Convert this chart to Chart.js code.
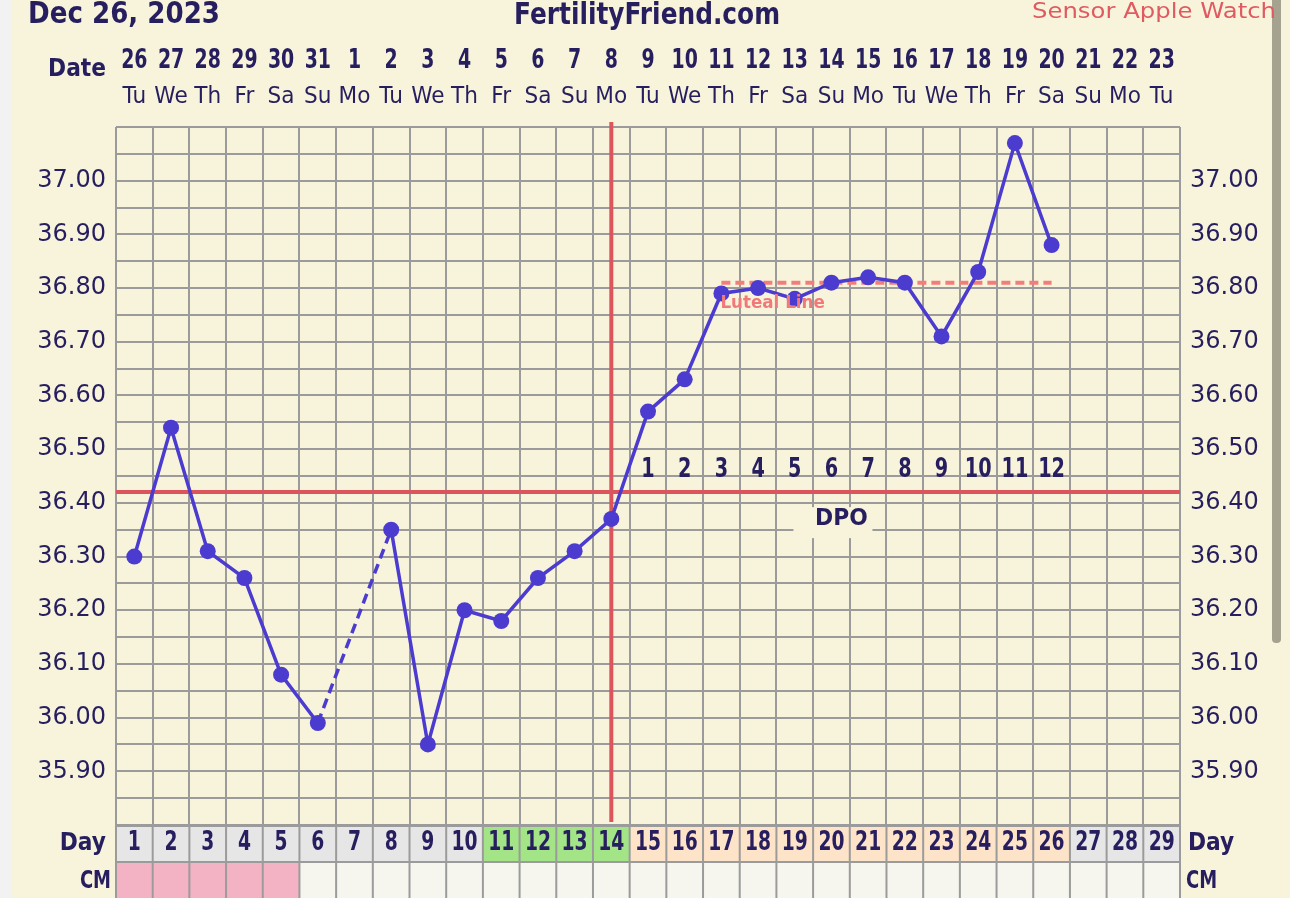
<!DOCTYPE html>
<html>
<head>
<meta charset="utf-8">
<script src="https://cdn.jsdelivr.net/npm/chart.js@4.4.1/dist/chart.umd.min.js"></script>
<style>
  html, body { margin: 0; padding: 0; background: #f2f2f2; overflow: hidden; }
</style>
</head>
<body>
<canvas id="bbt-chart" width="1290" height="898"></canvas>
<script>
// chart values
const cycleDays = [1, 2, 3, 4, 5, 6, 7, 8, 9, 10, 11, 12, 13, 14, 15, 16, 17, 18, 19, 20, 21, 22, 23, 24, 25, 26, 27, 28, 29];
const dates = [26, 27, 28, 29, 30, 31, 1, 2, 3, 4, 5, 6, 7, 8, 9, 10, 11, 12, 13, 14, 15, 16, 17, 18, 19, 20, 21, 22, 23];
const weekdays = ['Tu', 'We', 'Th', 'Fr', 'Sa', 'Su', 'Mo', 'Tu', 'We', 'Th', 'Fr', 'Sa', 'Su', 'Mo', 'Tu', 'We', 'Th', 'Fr', 'Sa', 'Su', 'Mo', 'Tu', 'We', 'Th', 'Fr', 'Sa', 'Su', 'Mo', 'Tu'];
const temps = [36.30, 36.54, 36.31, 36.26, 36.08, 35.99, null, 36.35, 35.95, 36.20, 36.18, 36.26, 36.31, 36.37, 36.57, 36.63, 36.79, 36.80, 36.78, 36.81, 36.82, 36.81, 36.71, 36.83, 37.07, 36.88, null, null, null];
const lutealLine = [null, null, null, null, null, null, null, null, null, null, null, null, null, null, null, null, 36.81, 36.81, 36.81, 36.81, 36.81, 36.81, 36.81, 36.81, 36.81, 36.81, null, null, null];
const dpo = [null, null, null, null, null, null, null, null, null, null, null, null, null, null, 1, 2, 3, 4, 5, 6, 7, 8, 9, 10, 11, 12, null, null, null];
const coverline = 36.42;
const ovulationDay = 14;
const fertileDays = [11, 12, 13, 14];
const periodDays = [1, 2, 3, 4, 5];
const yLabels = [35.90, 36.00, 36.10, 36.20, 36.30, 36.40, 36.50, 36.60, 36.70, 36.80, 36.90, 37.00];
const Y_MIN = 35.80;
const Y_MAX = 37.10;

const NAVY = '#261e5e';
const CREAM = '#f8f4dc';
const GRID = '#9b9b9b';
const RED = '#dc555d';
const PURPLE = '#4b3bcf';

function txt(ctx, s, x, y, font, color, align, sx) {
  ctx.save();
  ctx.font = font;
  ctx.fillStyle = color;
  ctx.textBaseline = 'middle';
  ctx.textAlign = align || 'center';
  ctx.translate(x, y);
  ctx.scale(sx || 1, 1);
  ctx.fillText(String(s), 0, 0);
  ctx.restore();
}

function fitTxt(ctx, s, x, y, font, color, width) {
  ctx.save();
  ctx.font = font;
  const w = ctx.measureText(s).width;
  ctx.restore();
  txt(ctx, s, x, y, font, color, 'left', width / w);
}

const fertilityPlugin = {
  id: 'fertility',
  beforeDraw(chart) {
    const { ctx, width, height } = chart;
    ctx.save();
    ctx.fillStyle = CREAM;
    ctx.fillRect(0, 0, width, height);
    ctx.fillStyle = '#f2f2f2';
    ctx.fillRect(0, 0, 12, height);
    // scrollbar thumb
    ctx.fillStyle = '#a5a290';
    ctx.beginPath();
    ctx.roundRect(1272, -10, 9, 653, 4);
    ctx.fill();
    ctx.restore();
  },
  beforeDatasetsDraw(chart) {
    const { ctx, chartArea, scales } = chart;
    const x = scales.x, y = scales.y;
    ctx.save();
    // DPO box hides the grid
    const bx = x.getPixelForValue(19) + 10;
    const by = y.getPixelForValue(coverline) + 27;
    ctx.fillStyle = CREAM;
    ctx.fillRect(bx - 48, by - 12, 79, 31);
    ctx.strokeStyle = RED;
    ctx.lineWidth = 4;
    ctx.beginPath();
    const ox = x.getPixelForValue(ovulationDay - 1);
    ctx.moveTo(ox, chartArea.top - 5);
    ctx.lineTo(ox, chartArea.bottom - 3);
    const cy = y.getPixelForValue(coverline);
    ctx.moveTo(chartArea.left, cy);
    ctx.lineTo(chartArea.right, cy);
    ctx.stroke();
    txt(ctx, 'DPO', bx, by, 'bold 23px "DejaVu Sans"', NAVY, 'center', 0.95);
    dpo.forEach((d, i) => {
      if (d !== null) txt(ctx, d, x.getPixelForValue(i), cy - 22, 'bold 26px "DejaVu Sans"', NAVY, 'center', 0.74);
    });
    ctx.restore();
  },
  afterDatasetsDraw(chart) {
    const { ctx, scales } = chart;
    const first = lutealLine.findIndex(v => v !== null);
    txt(ctx, 'Luteal Line', scales.x.getPixelForValue(first) - 1, scales.y.getPixelForValue(lutealLine[first]) + 21,
      'bold 18px "DejaVu Sans"', '#f07a7a', 'left', 0.93);
  },
  afterDraw(chart) {
    const { ctx, chartArea, scales } = chart;
    const x = scales.x;
    const colW = (chartArea.right - chartArea.left) / cycleDays.length;
    ctx.save();
    // titles
    fitTxt(ctx, 'Dec 26, 2023', 28, 15, 'bold 30px "DejaVu Sans"', NAVY, 192);
    fitTxt(ctx, 'FertilityFriend.com', 514, 16, 'bold 30px "DejaVu Sans"', NAVY, 266);
    fitTxt(ctx, 'Sensor Apple Watch', 1032, 12, '22px "DejaVu Sans"', '#e05a62', 244);
    // date header
    txt(ctx, 'Date', 106, 69, 'bold 25px "DejaVu Sans"', NAVY, 'right', 0.87);
    cycleDays.forEach((d, i) => {
      const px = x.getPixelForValue(i);
      txt(ctx, dates[i], px, 61, 'bold 27px "DejaVu Sans"', NAVY, 'center', 0.7);
      txt(ctx, weekdays[i], px, 97, '23px "DejaVu Sans"', NAVY, 'center', 0.94);
    });
    // day / CM rows
    const top = chartArea.bottom;
    const rowH = 37;
    cycleDays.forEach((d, i) => {
      const left = x.getPixelForValue(i) - colW / 2;
      let fill = '#e6e6e6';
      if (fertileDays.includes(d)) fill = '#a2e486';
      else if (dpo[i] !== null) fill = '#fde3c8';
      ctx.fillStyle = fill;
      ctx.fillRect(left, top, colW, rowH);
      ctx.fillStyle = periodDays.includes(d) ? '#f4b3c5' : '#f6f6ee';
      ctx.fillRect(left, top + rowH, colW, 60);
      txt(ctx, d, x.getPixelForValue(i), top + 18, 'bold 26px "DejaVu Sans"', NAVY, 'center', 0.72);
    });
    ctx.strokeStyle = GRID;
    ctx.lineWidth = 2;
    ctx.beginPath();
    for (let i = 0; i <= cycleDays.length; i++) {
      const px = chartArea.left + i * colW;
      ctx.moveTo(px, top);
      ctx.lineTo(px, 898);
    }
    ctx.moveTo(chartArea.left, top + 1);
    ctx.lineTo(chartArea.right, top + 1);
    ctx.moveTo(chartArea.left, top + rowH);
    ctx.lineTo(chartArea.right, top + rowH);
    ctx.stroke();
    txt(ctx, 'Day', 106, top + 18, 'bold 25px "DejaVu Sans"', NAVY, 'right', 0.87);
    txt(ctx, 'Day', chartArea.right + 8, top + 18, 'bold 25px "DejaVu Sans"', NAVY, 'left', 0.87);
    txt(ctx, 'CM', 111, top + rowH + 19, 'bold 25px "DejaVu Sans"', NAVY, 'right', 0.72);
    txt(ctx, 'CM', chartArea.right + 6, top + rowH + 19, 'bold 25px "DejaVu Sans"', NAVY, 'left', 0.72);
    ctx.restore();
  }
};

const gridTicks = [];
for (let v = Y_MIN; v <= Y_MAX + 0.001; v += 0.05) gridTicks.push({ value: Math.round(v * 100) / 100 });

const yLabel = (v) => {
  const hit = yLabels.find(l => Math.abs(l - v) < 0.001);
  return hit !== undefined ? hit.toFixed(2) : '';
};

const yAxis = (position, showGrid) => ({
  position: position,
  min: Y_MIN,
  max: Y_MAX,
  afterBuildTicks: (s) => { s.ticks = gridTicks.map(t => ({ value: t.value })); },
  afterFit: (s) => { s.width = position === 'left' ? 116 : 110; },
  border: { display: false },
  grid: { display: showGrid, color: GRID, lineWidth: 2, drawTicks: false },
  ticks: {
    autoSkip: false,
    padding: 10,
    color: NAVY,
    font: { family: 'DejaVu Sans', size: 24 },
    callback: (v) => yLabel(v),
  },
});

// dashed where a day was skipped
const gapDash = (c) => (c.p0.skip || c.p1.skip || c.p1DataIndex - c.p0DataIndex > 1 ? [10, 6] : undefined);

new Chart(document.getElementById('bbt-chart').getContext('2d'), {
  type: 'line',
  data: {
    labels: cycleDays,
    datasets: [
      {
        label: 'Temperature',
        data: temps,
        yAxisID: 'y',
        order: 0,
        borderColor: PURPLE,
        backgroundColor: PURPLE,
        borderWidth: 3.5,
        pointRadius: 8,
        pointHoverRadius: 8,
        pointBorderWidth: 0,
        spanGaps: true,
        tension: 0,
        segment: { borderDash: gapDash },
      },
      {
        label: 'Luteal Line',
        data: lutealLine,
        yAxisID: 'y',
        order: 1,
        borderColor: '#f27d7a',
        borderWidth: 4,
        borderDash: [9, 5],
        pointRadius: 0,
        fill: false,
      },
    ],
  },
  options: {
    responsive: false,
    animation: false,
    layout: { padding: { top: 127, left: 0, right: 0, bottom: 0 } },
    plugins: { legend: { display: false }, tooltip: { enabled: false } },
    scales: {
      x: {
        type: 'category',
        offset: true,
        afterFit: (s) => { s.height = 73; },
        border: { display: false },
        grid: { offset: true, color: GRID, lineWidth: 2, drawTicks: false },
        ticks: { display: false },
      },
      y: yAxis('left', true),
      y2: yAxis('right', false),
    },
  },
  plugins: [fertilityPlugin],
});
</script>
</body>
</html>
